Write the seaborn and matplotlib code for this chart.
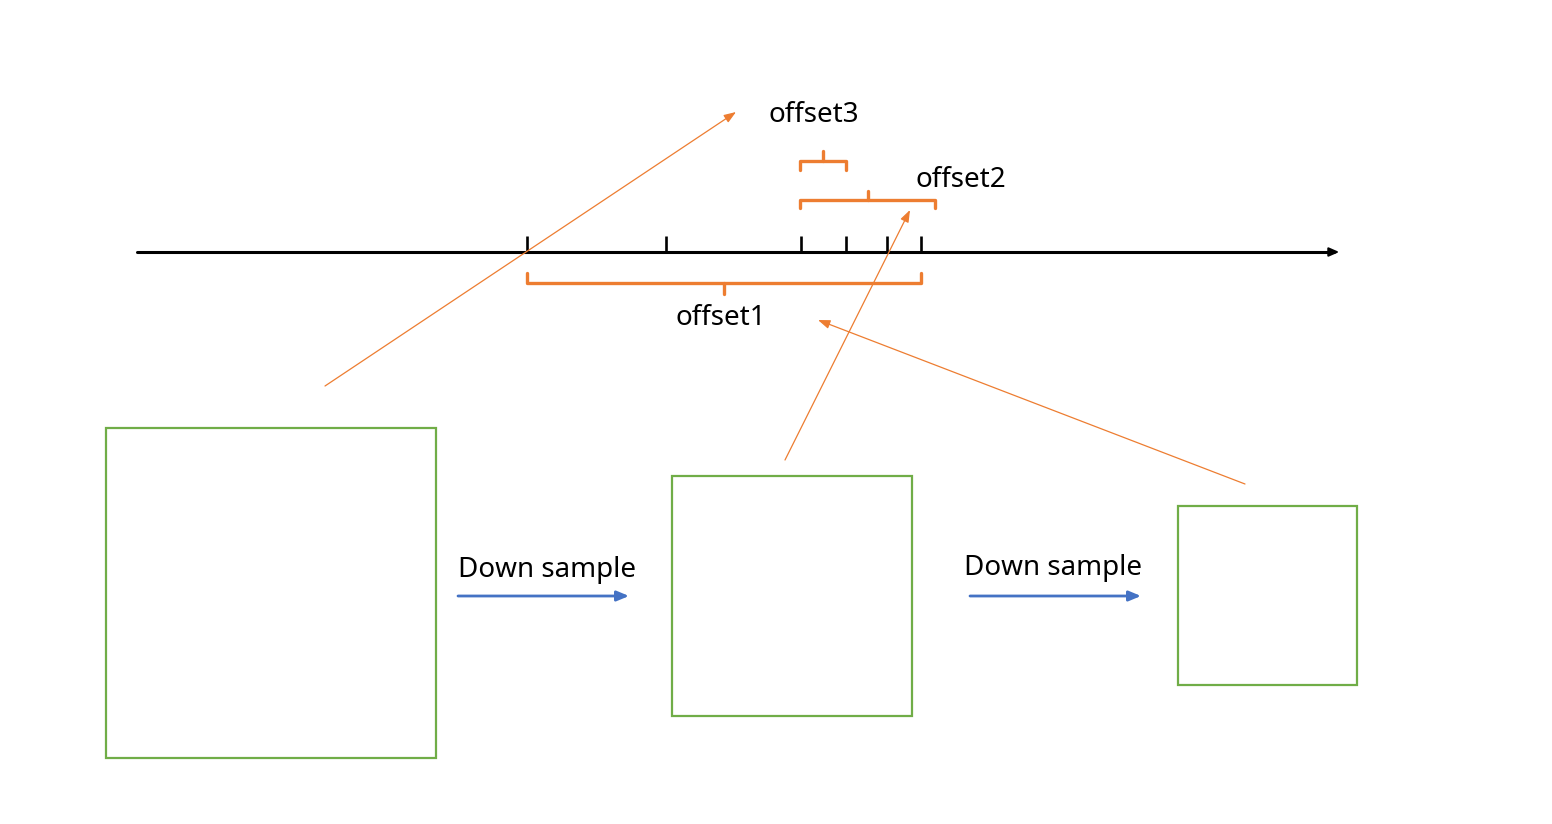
import matplotlib
matplotlib.use("Agg")
import matplotlib.pyplot as plt
import seaborn as sns
import pandas as pd

# ---- data (diagram geometry in pixel space) ----
axis_start = [137, 252]
axis_end = [1342, 252]
tick_x = [527, 666, 801, 846, 887, 921]
tick_top = 236

# brackets: x0, x1, bar y, end y, tip y
bracket_x0 = [527, 800, 800]
bracket_x1 = [921, 935, 846]
bracket_y = [283, 200, 161]
bracket_end_y = [273, 208, 170]
bracket_tip_y = [294, 191, 151]
bracket_labels = ["offset1", "offset2", "offset3"]
label_pos = [(721, 318), (961, 180), (814, 115)]

# thin orange pointer arrows: (start) -> (end)
ptr_start = [(325, 386), (785, 460), (1245, 484)]
ptr_end = [(736, 112), (910, 210), (818, 320)]

# green boxes: left, top, size
box_left = [106, 672, 1178]
box_top = [428, 476, 506]
box_size = [330, 240, 179]

# down sample arrows
ds_start = [(458, 596), (970, 596)]
ds_end = [(629, 596), (1141, 596)]
ds_label = ["Down sample", "Down sample"]
ds_label_pos = [(547, 570), (1053, 568)]

ORANGE = "#ED7D31"
GREEN = "#70AD47"
BLUE = "#4472C4"

sns.set_theme(style="white")
plt.rcParams["font.family"] = ["Noto Sans", "DejaVu Sans"]

fig = plt.figure(figsize=(15.52, 8.24), dpi=100)
ax = fig.add_axes([0, 0, 1, 1])
ax.set_xlim(0, 1552)
ax.set_ylim(824, 0)
ax.axis("off")

# main axis line
line_df = pd.DataFrame({"x": [axis_start[0], axis_end[0] - 8], "y": [axis_start[1], axis_end[1]]})
sns.lineplot(data=line_df, x="x", y="y", color="black", linewidth=2.2, ax=ax, sort=False)
ax.annotate("", xy=tuple(axis_end), xytext=(axis_end[0] - 12, axis_end[1]),
            arrowprops=dict(arrowstyle="-|>,head_length=0.5,head_width=0.22", color="black", lw=1.5))

# ticks
for tx in tick_x:
    ax.plot([tx, tx], [tick_top, axis_start[1]], color="black", lw=1.9, solid_capstyle="butt")

# brackets
for x0, x1, yb, ye, yt in zip(bracket_x0, bracket_x1, bracket_y, bracket_end_y, bracket_tip_y):
    xc = (x0 + x1) / 2
    ax.plot([x0, x0, x1, x1], [ye, yb, yb, ye], color=ORANGE, lw=2.4,
            solid_joinstyle="round", solid_capstyle="round")
    ax.plot([xc, xc], [yb, yt], color=ORANGE, lw=2.4, solid_capstyle="round")

for lab, (lx, ly) in zip(bracket_labels, label_pos):
    ax.text(lx, ly, lab, fontsize=20, ha="center", va="center", color="black")

# pointer arrows
for s, e in zip(ptr_start, ptr_end):
    ax.annotate("", xy=e, xytext=s,
                arrowprops=dict(arrowstyle="-|>,head_length=0.6,head_width=0.22",
                                color=ORANGE, lw=0.9, shrinkA=0, shrinkB=0))

# green boxes
for l, t, s in zip(box_left, box_top, box_size):
    ax.add_patch(plt.Rectangle((l, t), s, s, fill=False, edgecolor=GREEN, lw=1.6))

# down sample arrows
for s, e in zip(ds_start, ds_end):
    ax.annotate("", xy=e, xytext=s,
                arrowprops=dict(arrowstyle="-|>,head_length=0.6,head_width=0.25",
                                color=BLUE, lw=2.0, shrinkA=0, shrinkB=0))
for lab, (lx, ly) in zip(ds_label, ds_label_pos):
    ax.text(lx, ly, lab, fontsize=20, ha="center", va="center", color="black")

fig.savefig("out.png", dpi=100, facecolor="white")
